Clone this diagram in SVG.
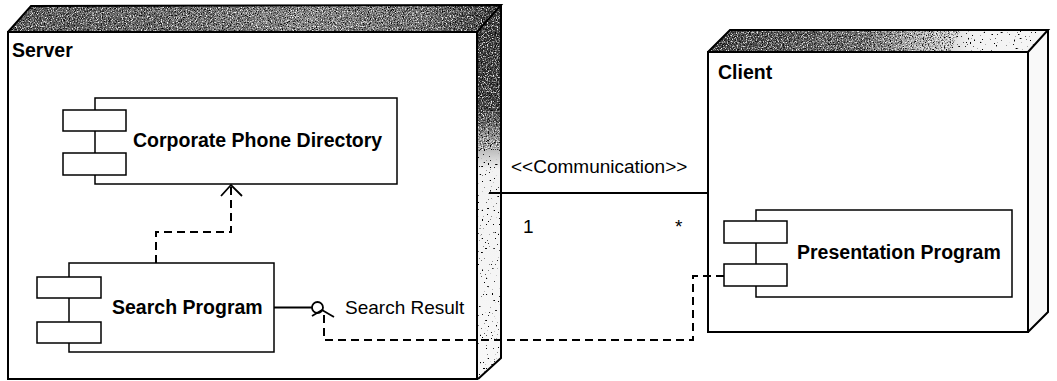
<svg xmlns="http://www.w3.org/2000/svg" width="1057" height="381" viewBox="0 0 1057 381">
<style>
  .face{fill:#ffffff;stroke:#000;stroke-width:2}
  .edge{fill:none;stroke:#000;stroke-width:2;stroke-linejoin:miter}
  .box{fill:#ffffff;stroke:#000;stroke-width:1.5}
  .line{fill:none;stroke:#000;stroke-width:1.8}
  .dash{fill:none;stroke:#000;stroke-width:2;stroke-dasharray:8 5}
  .title{font-family:"Liberation Sans",Arial,sans-serif;font-weight:bold;font-size:19.5px;fill:#000}
  .lbl{font-family:"Liberation Sans",Arial,sans-serif;font-size:19px;fill:#000}
</style>
<defs>
  <linearGradient id="srvTop" x1="8" y1="0" x2="501" y2="0" gradientUnits="userSpaceOnUse">
    <stop offset="0" stop-color="#555"/>
    <stop offset="0.3" stop-color="#666"/>
    <stop offset="0.6" stop-color="#8a8a8a"/>
    <stop offset="0.85" stop-color="#6e6e6e"/>
    <stop offset="1" stop-color="#2e2e2e"/>
  </linearGradient>
  <linearGradient id="srvSide" x1="0" y1="5" x2="0" y2="379" gradientUnits="userSpaceOnUse">
    <stop offset="0" stop-color="#333"/>
    <stop offset="0.28" stop-color="#3c3c3c"/>
    <stop offset="0.36" stop-color="#a0a0a0"/>
    <stop offset="0.44" stop-color="#f2f2f2"/>
    <stop offset="1" stop-color="#f8f8f8"/>
  </linearGradient>
  <linearGradient id="cliTop" x1="708" y1="0" x2="1048" y2="0" gradientUnits="userSpaceOnUse">
    <stop offset="0" stop-color="#3c3c3c"/>
    <stop offset="0.45" stop-color="#6a6a6a"/>
    <stop offset="0.62" stop-color="#bdbdbd"/>
    <stop offset="0.78" stop-color="#f2f2f2"/>
    <stop offset="1" stop-color="#f6f6f6"/>
  </linearGradient>
  <filter id="grain" x="0" y="0" width="100%" height="100%">
    <feTurbulence type="fractalNoise" baseFrequency="0.85" numOctaves="2" seed="4" result="n"/>
    <feColorMatrix in="n" type="matrix" values="0 0 0 0 0  0 0 0 0 0  0 0 0 0 0  -3.2 0 0 0 1.75" result="dots"/>
    <feComposite in="dots" in2="SourceGraphic" operator="in"/>
  </filter>
  <filter id="grainW" x="0" y="0" width="100%" height="100%">
    <feTurbulence type="fractalNoise" baseFrequency="0.8" numOctaves="2" seed="9" result="n"/>
    <feColorMatrix in="n" type="matrix" values="0 0 0 0 1  0 0 0 0 1  0 0 0 0 1  3.2 0 0 0 -1.55" result="dots"/>
    <feComposite in="dots" in2="SourceGraphic" operator="in"/>
  </filter>
  <filter id="sparse" x="0" y="0" width="100%" height="100%">
    <feTurbulence type="fractalNoise" baseFrequency="0.5" numOctaves="2" seed="7" result="n"/>
    <feColorMatrix in="n" type="matrix" values="0 0 0 0 0  0 0 0 0 0  0 0 0 0 0  -24 0 0 0 7.4" result="dots"/>
    <feComposite in="dots" in2="SourceGraphic" operator="in"/>
  </filter>
</defs>

<g id="server">
  <polygon points="8,32 31,6 501,5 477,32" fill="url(#srvTop)"/>
  <polygon points="8,32 31,6 501,5 477,32" fill="#fff" filter="url(#grain)"/>
  <polygon points="8,32 31,6 501,5 477,32" fill="#fff" filter="url(#grainW)"/>
  <polygon points="477,32 501,5 501,358 478,379" fill="url(#srvSide)"/>
  <polygon points="477,32 501,5 501,150 477,150" fill="#fff" filter="url(#grain)"/>
  <polygon points="477,32 501,5 501,150 477,150" fill="#fff" filter="url(#grainW)"/>
  <polygon points="477,140 501,140 501,358 478,379" fill="#fff" filter="url(#sparse)"/>
  <rect class="face" x="8" y="32" width="469" height="347"/>
  <polyline class="edge" points="8,32 31,6 501,5 477,32"/>
  <polyline class="edge" points="501,5 501,358 478,379"/>
  <text class="title" x="12" y="57">Server</text>
</g>

<g id="client">
  <polygon points="708,52 730,30 1048,30 1028,52" fill="url(#cliTop)"/>
  <polygon points="708,52 730,30 960,30 950,52" fill="#fff" filter="url(#grain)"/>
  <polygon points="708,52 730,30 960,30 950,52" fill="#fff" filter="url(#grainW)"/>
  <polygon points="940,52 950,30 1048,30 1028,52" fill="#fff" filter="url(#sparse)"/>
  <polygon points="1028,52 1048,30 1048,312 1028,332" fill="#f9f9f9"/>
  <rect class="face" x="708" y="52" width="320" height="280"/>
  <polyline class="edge" points="708,52 730,30 1048,30 1028,52"/>
  <polyline class="edge" points="1048,30 1048,312 1028,332"/>
  <text class="title" x="718" y="79">Client</text>
</g>

<g id="corporate-phone-directory">
  <rect class="box" x="95" y="98" width="302" height="86"/>
  <rect class="box" x="63" y="110" width="63" height="21"/>
  <rect class="box" x="63" y="153" width="63" height="22"/>
  <text class="title" x="133" y="147">Corporate Phone Directory</text>
</g>

<g id="search-program">
  <rect class="box" x="69" y="263" width="205" height="89"/>
  <rect class="box" x="37" y="277" width="64" height="21"/>
  <rect class="box" x="37" y="322" width="64" height="21"/>
  <text class="title" x="112" y="314">Search Program</text>
</g>

<g id="presentation-program">
  <rect class="box" x="756" y="210" width="256" height="87"/>
  <rect class="box" x="724" y="221" width="63" height="22"/>
  <rect class="box" x="724" y="264" width="63" height="22"/>
  <text class="title" x="797" y="259">Presentation Program</text>
</g>

<g id="search-result">
  <circle cx="317.5" cy="307.5" r="5.5" fill="#fff" stroke="#000" stroke-width="1.8"/>
  <text class="lbl" x="345" y="314">Search Result</text>
</g>

<g id="connectors">
  <line class="line" x1="274" y1="307.5" x2="312" y2="307.5"/>
  <polyline class="dash" points="156,263 156,232 231,232 231,187"/>
  <polyline class="line" points="221,196 231,185 242,196"/>
  <polyline class="dash" points="724,276 693,276 693,340 324,340 324,314"/>
  <polyline class="line" points="312,316 322,310 334,317"/>
  <line class="line" x1="489" y1="193" x2="708" y2="193"/>
  <text class="lbl" x="511" y="173">&lt;&lt;Communication&gt;&gt;</text>
  <text class="lbl" x="523" y="233">1</text>
  <text class="lbl" x="675" y="233">*</text>
</g>
</svg>
